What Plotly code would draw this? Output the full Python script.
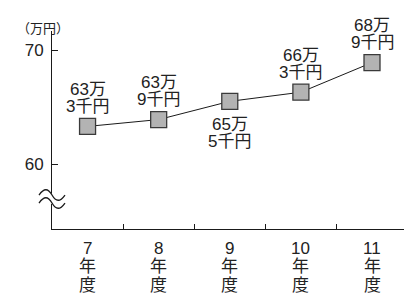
import plotly.graph_objects as go

years = ["7", "8", "9", "10", "11"]
values = [63.3, 63.9, 65.5, 66.3, 68.9]
label_top = ["63万", "63万", "65万", "66万", "68万"]
label_bottom = ["3千円", "9千円", "5千円", "3千円", "9千円"]
label_below = [False, False, True, False, False]
y_ticks = [60, 70]
unit_label = "（万円）"

FONT = "Liberation Sans, Noto Sans CJK JP, sans-serif"
x = list(range(len(years)))

fig = go.Figure()
fig.add_trace(go.Scatter(
    x=x, y=values, mode="lines+markers",
    line=dict(color="#1a1a1a", width=1),
    marker=dict(symbol="square", size=16, color="#b3b3b3",
                line=dict(color="#3a3a3a", width=1.3)),
    cliponaxis=False, hoverinfo="skip",
))

ann = []
for i, v in enumerate(values):
    if label_below[i]:
        s1, s2 = -23, -40
    else:
        s1, s2 = 37, 20
    ann.append(dict(x=x[i], y=v, xref="x", yref="y", text=label_top[i],
                    showarrow=False, yshift=s1, font=dict(family=FONT, size=17, color="#222")))
    ann.append(dict(x=x[i], y=v, xref="x", yref="y", text=label_bottom[i],
                    showarrow=False, yshift=s2, font=dict(family=FONT, size=17, color="#222")))
    for j, t in enumerate([years[i], "年", "度"]):
        ann.append(dict(x=x[i], y=0, xref="x", yref="paper", text=t,
                        showarrow=False, yanchor="middle", yshift=-19 - 18.5 * j,
                        font=dict(family=FONT, size=17, color="#222")))

ann.append(dict(x=0, y=1, xref="paper", yref="paper", text=unit_label, showarrow=False,
                xanchor="center", yanchor="middle", xshift=-9, yshift=4,
                font=dict(family="Noto Sans CJK JP", size=13, color="#222")))

shapes = [
    # gap in the axis for the break mark
    dict(type="rect", xref="paper", yref="y", x0=-0.02, x1=0.02, y0=56.5, y1=57.4,
         fillcolor="white", line=dict(width=0), layer="above"),
]
for off in (4, -4):
    shapes.append(dict(type="path", xref="paper", yref="y",
                       xsizemode="pixel", ysizemode="pixel", xanchor=0, yanchor=56.93,
                       path=f"M-13,{off} C-8,{off+7} -4,{off+7} 0,{off} S8,{off-7} 13,{off}",
                       line=dict(color="#1a1a1a", width=1.3), layer="above"))

fig.update_layout(
    width=404, height=295,
    margin=dict(l=52, r=0, t=31, b=66, autoexpand=False),
    paper_bgcolor="white", plot_bgcolor="white",
    showlegend=False,
    annotations=ann, shapes=shapes,
    xaxis=dict(range=[-0.5, 4.45], tickvals=[i + 0.5 for i in range(len(years) - 1)],
               ticktext=[""] * (len(years) - 1), ticks="inside", ticklen=5,
               tickcolor="#1a1a1a", showline=True, linecolor="#1a1a1a", linewidth=1,
               showgrid=False, zeroline=False, fixedrange=True),
    yaxis=dict(range=[54.3, 71.67], tickvals=y_ticks, ticks="inside", ticklen=6,
               tickcolor="#1a1a1a", showline=True, linecolor="#1a1a1a", linewidth=1,
               showgrid=False, zeroline=False, ticklabelstandoff=4,
               tickfont=dict(family=FONT, size=17, color="#222"), fixedrange=True),
)

fig.write_html("out.html", config={"displayModeBar": False},
               post_script="document.body.style.margin='0';document.body.style.overflow='hidden';")
